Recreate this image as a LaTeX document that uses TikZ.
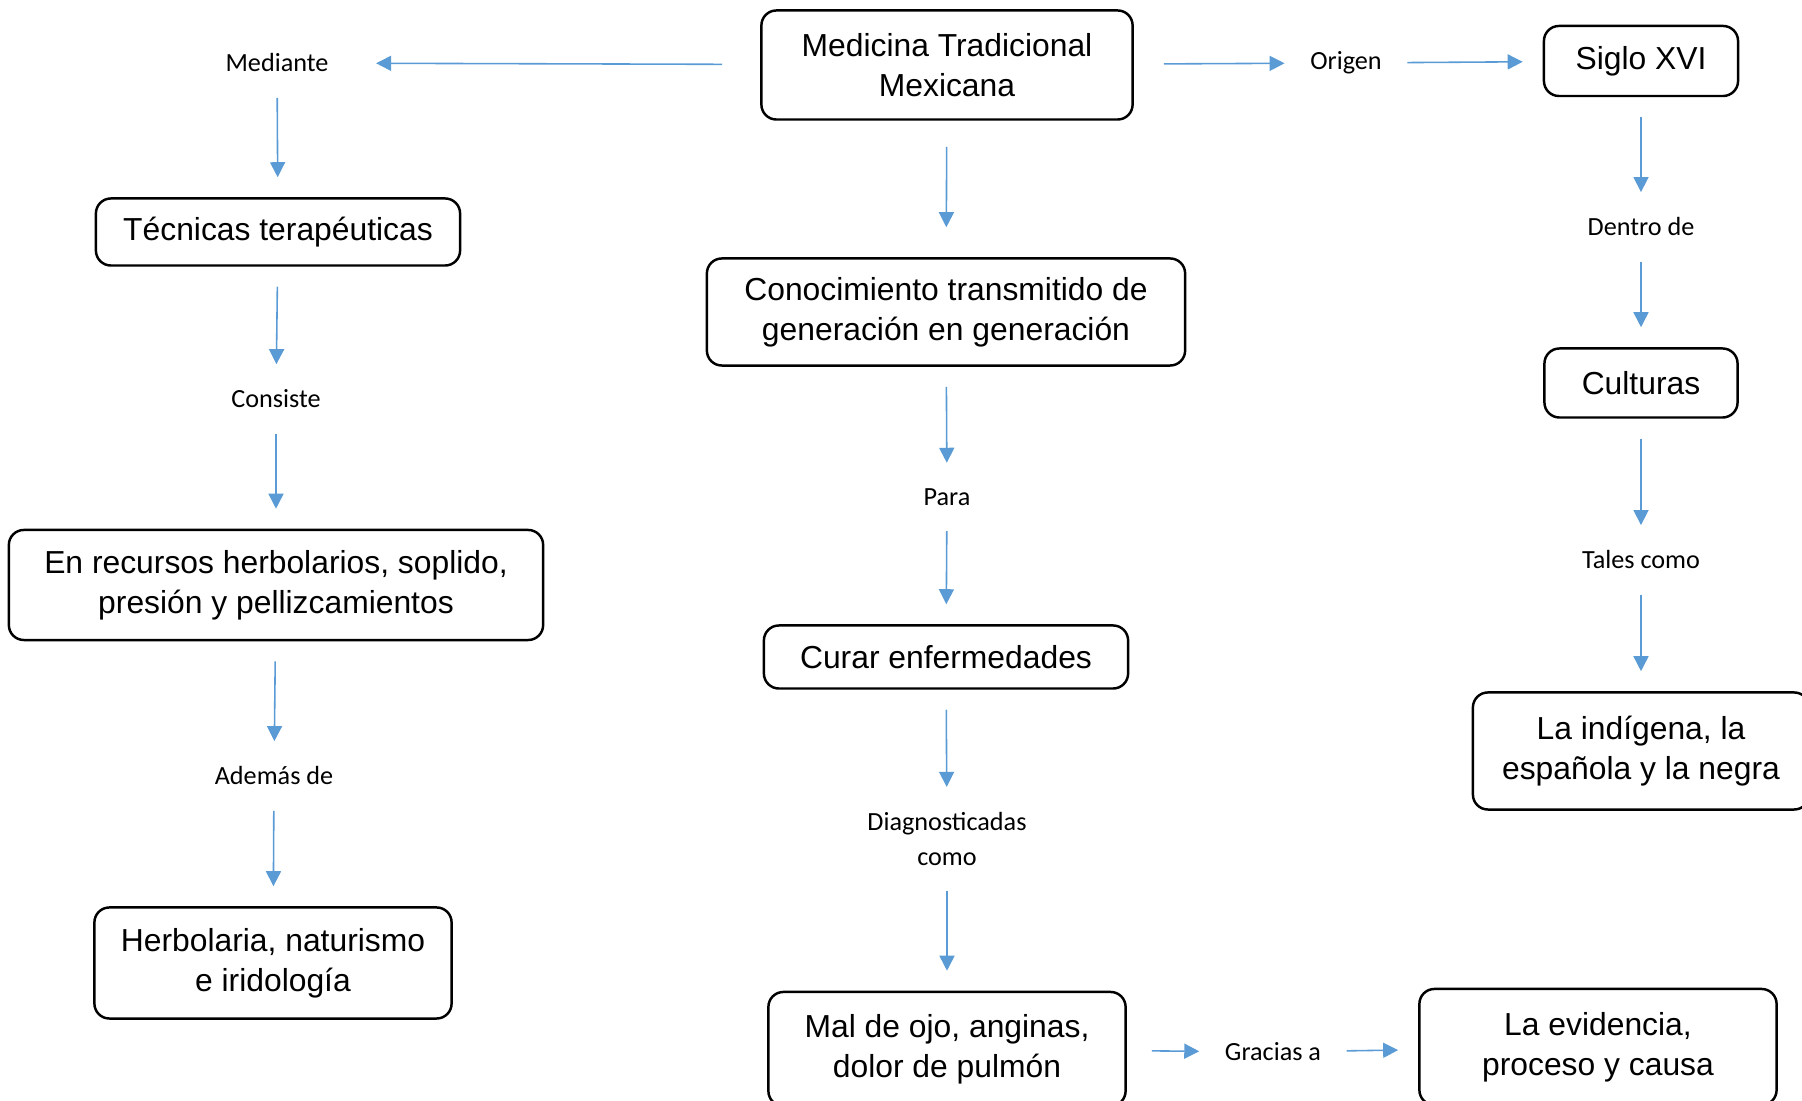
\documentclass[tikz,border=0pt]{standalone}
\usepackage{fontspec}
\setmainfont{Liberation Sans}
\newfontfamily\calibri{Carlito}
\usetikzlibrary{arrows.meta}
\definecolor{azul}{RGB}{91,155,213}
\begin{document}
\begin{tikzpicture}[x=0.01cm,y=-0.01cm,>={Triangle[length=1.5mm,width=1.5mm]},
	caja/.style={draw,rounded corners=0.15cm,line width=0.7pt,align=center,font=\fontsize{9.05}{11.45}\selectfont},
	etiqueta/.style={inner xsep=0.05cm,inner ysep=0.05cm,align=center,font=\calibri\fontsize{7.45}{9.8}\selectfont},
	enlace/.style={->,azul,line width=0.45pt,shorten <=0.2cm,shorten >=0.2cm}]
	\useasboundingbox (0,0) rectangle (1802,1101);
	\clip (0,0) rectangle (1802,1101);
	\node[caja,minimum width=3.71cm,minimum height=1.09cm] (medicina) at (947,65) {Medicina Tradicional\\Mexicana};
	\node[caja,minimum width=1.94cm,minimum height=0.70cm] (siglo) at (1641,61) {Siglo XVI};
	\node[caja,minimum width=1.93cm,minimum height=0.69cm] (culturas) at (1641,383) {Culturas};
	\node[caja,minimum width=3.36cm,minimum height=1.17cm] (raices) at (1641,751) {La indígena, la\\española y la negra};
	\node[caja,minimum width=3.64cm,minimum height=0.67cm] (tecnicas) at (278,232) {Técnicas terapéuticas};
	\node[caja,minimum width=5.34cm,minimum height=1.10cm] (recursos) at (276,585) {En recursos herbolarios, soplido,\\presión y pellizcamientos};
	\node[caja,minimum width=3.57cm,minimum height=1.11cm] (herbolaria) at (273,963) {Herbolaria, naturismo\\e iridología};
	\node[caja,minimum width=4.78cm,minimum height=1.07cm] (conocimiento) at (946,312) {Conocimiento transmitido de\\generación en generación};
	\node[caja,minimum width=3.64cm,minimum height=0.63cm] (curar) at (946,657) {Curar enfermedades};
	\node[caja,minimum width=3.57cm,minimum height=1.14cm] (males) at (947,1049) {Mal de ojo, anginas,\\dolor de pulmón};
	\node[caja,minimum width=3.57cm,minimum height=1.16cm] (evidencia) at (1598,1047) {La evidencia,\\proceso y causa};

	\node[etiqueta] (mediante) at (277,63) {Mediante};
	\node[etiqueta] (origen) at (1346,63) {Origen};
	\node[etiqueta] (dentro) at (1641,227) {Dentro de};
	\node[etiqueta] (tales) at (1641,560) {Tales como};
	\node[etiqueta] (consiste) at (276,399) {Consiste};
	\node[etiqueta] (ademas) at (274,776) {Además de};
	\node[etiqueta] (para) at (947,497) {Para};
	\node[etiqueta] (diagnostico) at (947,839) {Diagnosticadas\\como};
	\node[etiqueta] (gracias) at (1273,1052) {Gracias a};

	\draw[enlace,shorten <=0.38cm,shorten >=0.42cm] (medicina) -- (mediante);
	\draw[enlace,shorten <=0.3cm] (medicina) -- (origen);
	\draw[enlace] (origen) -- (siglo);
	\draw[enlace] (mediante) -- (tecnicas);
	\draw[enlace] (tecnicas) -- (consiste);
	\draw[enlace] (consiste) -- (recursos);
	\draw[enlace] (recursos) -- (ademas);
	\draw[enlace] (ademas) -- (herbolaria);
	\draw[enlace,shorten <=0.26cm,shorten >=0.3cm] (medicina) -- (conocimiento);
	\draw[enlace] (conocimiento) -- (para);
	\draw[enlace] (para) -- (curar);
	\draw[enlace] (curar) -- (diagnostico);
	\draw[enlace] (diagnostico) -- (males);
	\draw[enlace] (siglo) -- (dentro);
	\draw[enlace] (dentro) -- (culturas);
	\draw[enlace] (culturas) -- (tales);
	\draw[enlace] (tales) -- (raices);
	\draw[enlace,shorten <=0.25cm] (males) -- (gracias);
	\draw[enlace] (gracias) -- (evidencia);
\end{tikzpicture}
\end{document}
